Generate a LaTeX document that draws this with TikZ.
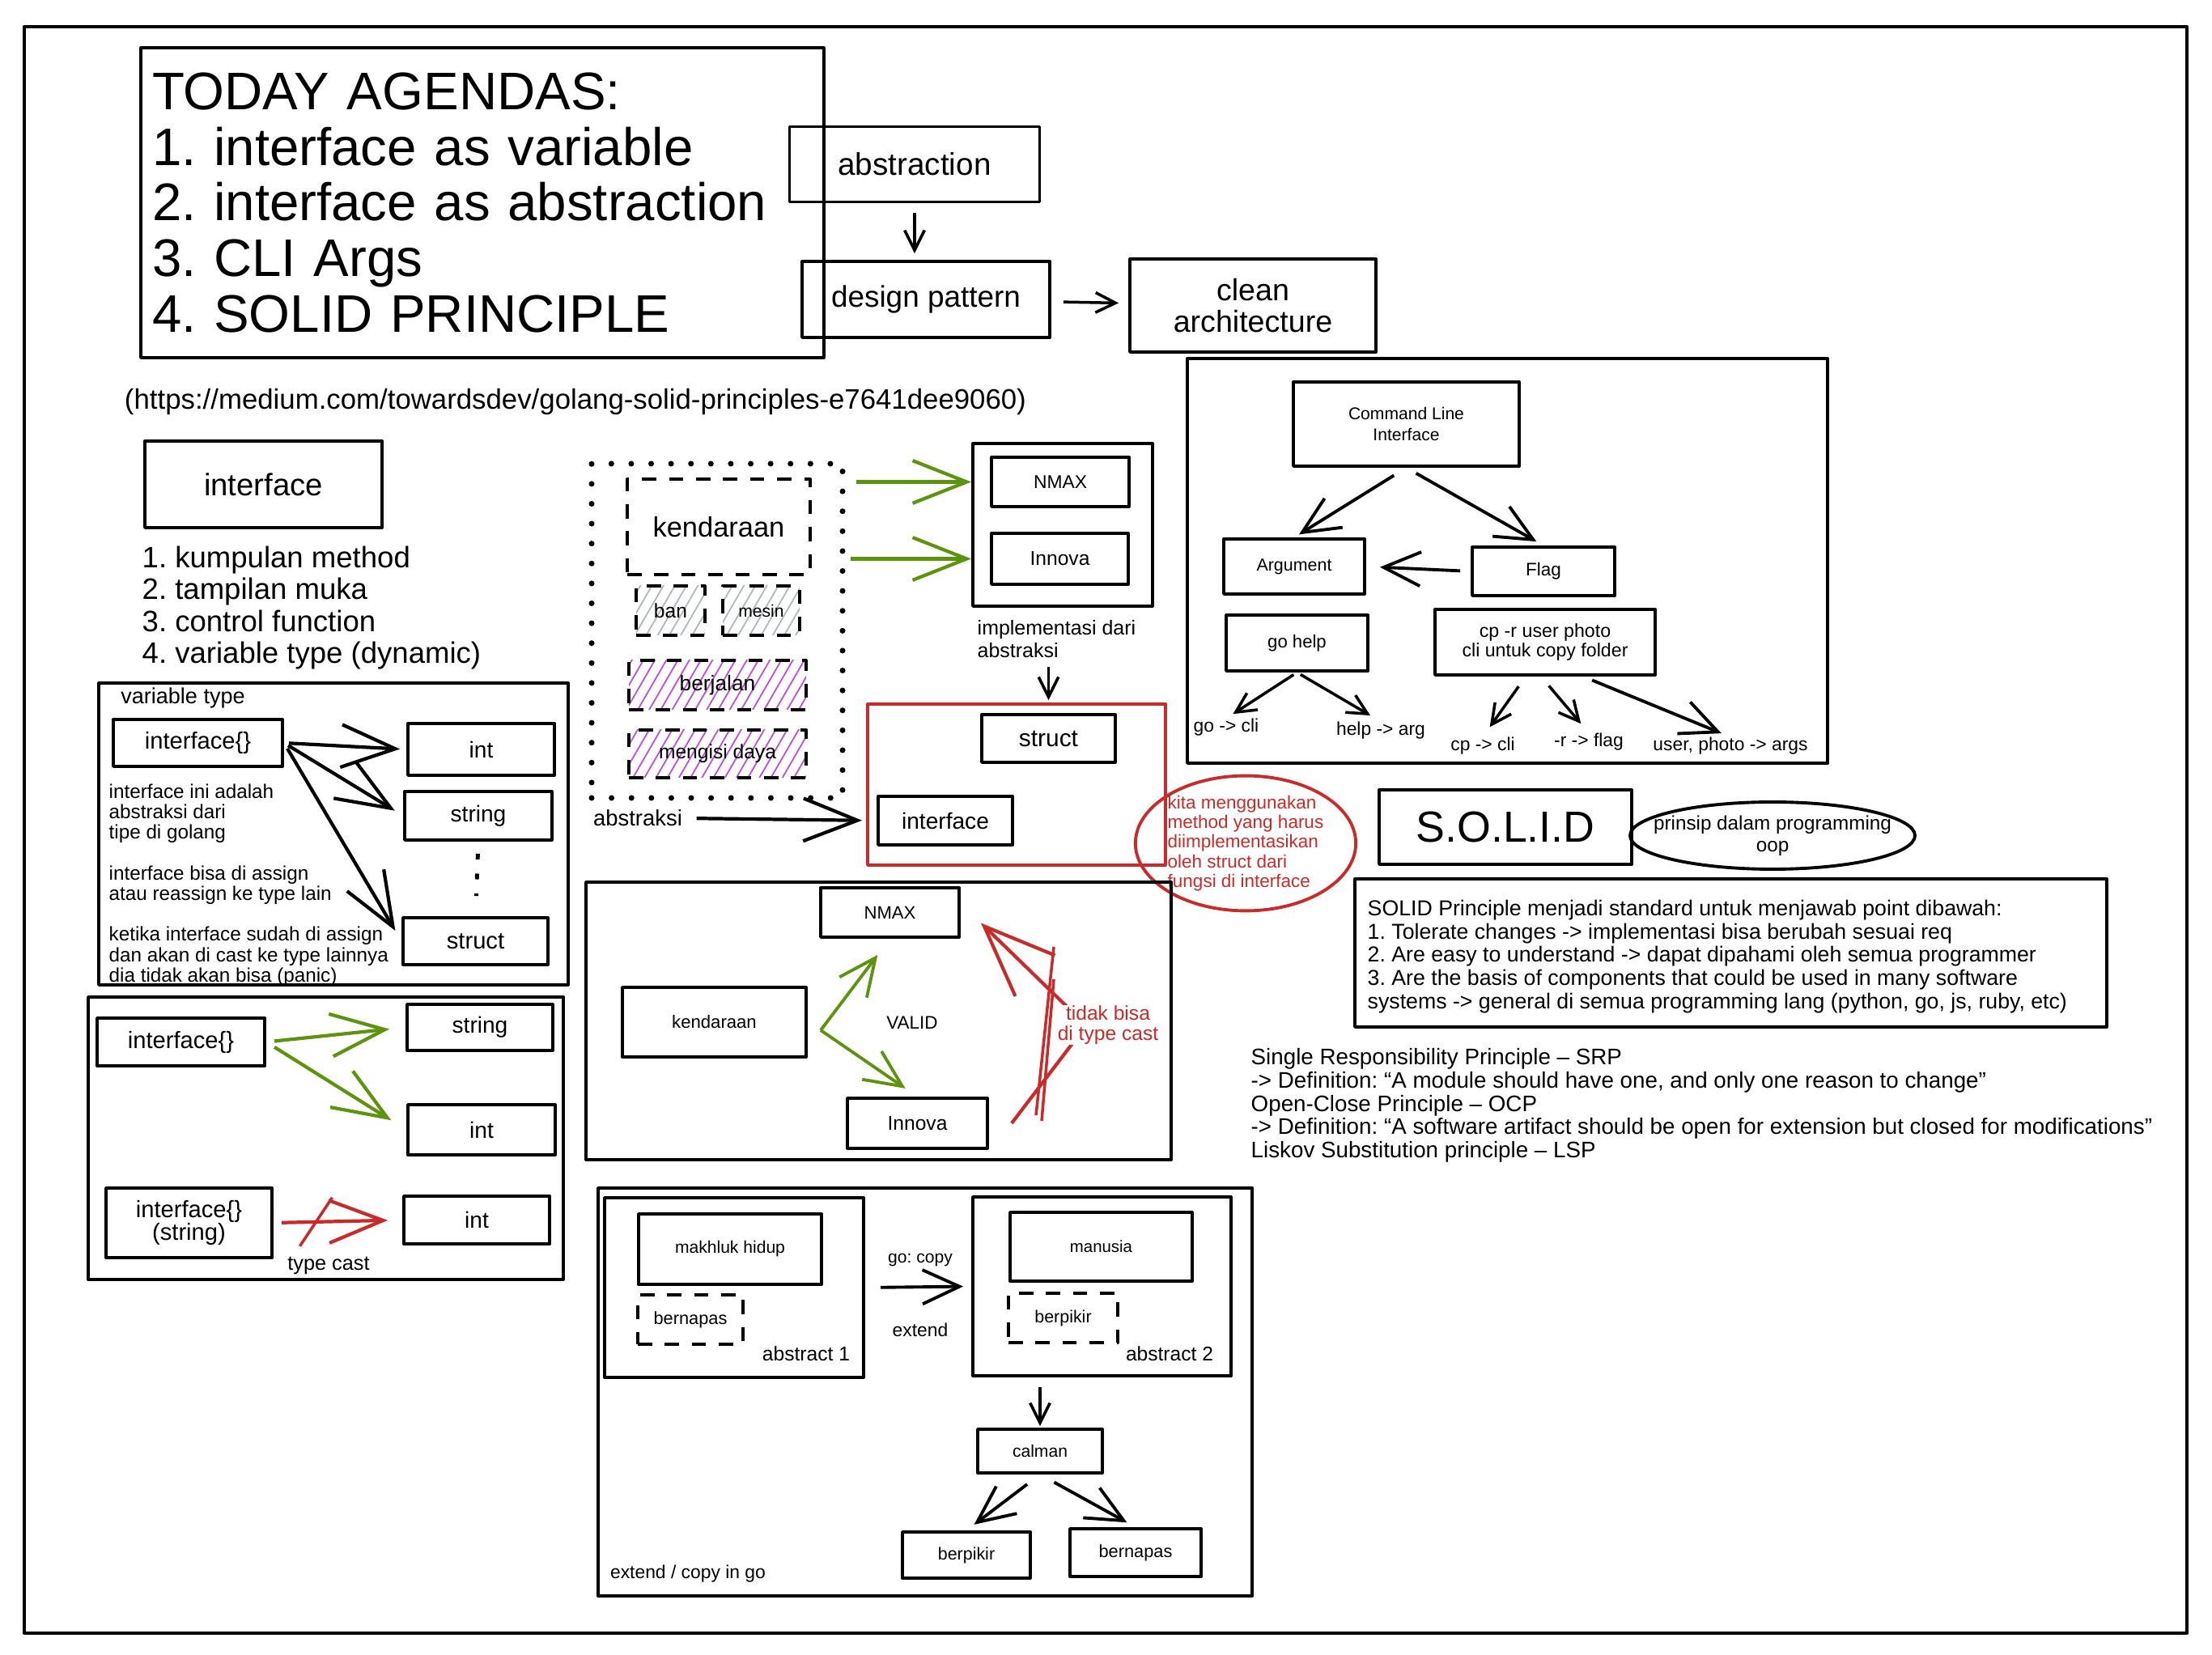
\documentclass[tikz,border=0pt]{standalone}
\usepackage{fontspec}
\setmainfont{Liberation Sans}
\usetikzlibrary{arrows.meta,shapes.geometric,patterns.meta,calc}
\definecolor{xgreen}{RGB}{92,148,13}
\definecolor{xred}{RGB}{201,42,42}
\definecolor{xpurple}{RGB}{190,75,219}
\definecolor{xgray}{RGB}{173,181,189}
\newcommand\fsz[2]{\fontsize{#1}{#2}\selectfont}
\frenchspacing
\begin{document}
\frenchspacing
\begin{tikzpicture}[line join=round,
	card/.style={draw,line width=1.1pt,inner sep=0pt,align=center},
	panel/.style={draw,line width=1.1pt,inner sep=0pt},
	dcard/.style={draw,line width=1.1pt,inner sep=0pt,align=center,dash pattern=on 5pt off 4.5pt},
	txt/.style={inner sep=0pt,align=left},
	sarr/.style={->,line width=1pt,>={Straight Barb[length=7pt,width=7pt]}},
	marr/.style={->,line width=1.1pt,>={Straight Barb[length=13pt,width=12pt]}},
	barr/.style={->,line width=1.2pt,>={Straight Barb[length=19pt,width=15pt]}},
	rarr/.style={->,line width=1.2pt,>={Straight Barb[length=25pt,width=20pt]}},
	greyhatch/.style={pattern={Lines[angle=60,distance=3.5pt,line width=0.5pt]},pattern color=xgray},
	purplehatch/.style={pattern={Lines[angle=60,distance=3.5pt,line width=0.5pt]},pattern color=xpurple}]
		\useasboundingbox (0,0) rectangle (27.33,-20.45);
		\node[panel,line width=1.3pt,minimum width=26.72cm,minimum height=19.85cm] (page) at (13.66,-10.255) {};
		\node[panel,minimum width=8.44cm,minimum height=3.83cm,inner xsep=0.14cm,text width=8.16cm,align=left,font=\fsz{18.6pt}{19.5pt}] (agenda) at (5.96,-2.505) {TODAY AGENDAS:\\1. interface as variable\\2. interface as abstraction\\3. CLI Args\\4. SOLID PRINCIPLE};
		\node[card,minimum width=3.09cm,minimum height=0.93cm,font=\fsz{11pt}{13pt}] (abs) at (11.30,-2.03) {abstraction};
		\node[card,minimum width=3.06cm,minimum height=0.94cm,font=\fsz{10.5pt}{12pt}] (dp) at (11.44,-3.70) {design pattern};
		\node[card,minimum width=3.04cm,minimum height=1.15cm,font=\fsz{10.7pt}{11pt}] (clean) at (15.48,-3.775) {clean\\architecture};
		\draw[sarr,shorten <=0.12cm,shorten >=0.08cm] (abs.south) -- (abs.south |- dp.north);
		\draw[sarr,shorten <=0.15cm,shorten >=0.12cm] (dp) -- (clean);
		\node[txt,font=\fsz{9.9pt}{12pt}] (url) at (7.11,-4.97) {(https://medium.com/towardsdev/golang-solid-principles-e7641dee9060)};
		\node[card,minimum width=2.93cm,minimum height=1.07cm,font=\fsz{10.9pt}{12pt}] (iface) at (3.255,-5.985) {interface};
		\node[txt,anchor=west,font=\fsz{10.4pt}{11.2pt}] (feat) at (1.75,-7.51) {1. kumpulan method\\2. tampilan muka\\3. control function\\4. variable type (dynamic)};
		\node[panel,minimum width=5.80cm,minimum height=3.73cm] (vtframe) at (4.12,-10.305) {};
		\node[txt,font=\fsz{7.7pt}{9pt}] (vtlabel) at (2.26,-8.63) {variable type};
		\node[card,minimum width=2.09cm,minimum height=0.58cm,font=\fsz{8.3pt}{10pt}] (iface1) at (2.445,-9.18) {interface\{\}};
		\node[card,minimum width=1.81cm,minimum height=0.64cm,font=\fsz{8pt}{10pt}] (int1) at (5.945,-9.26) {int};
		\node[card,minimum width=1.82cm,minimum height=0.60cm,font=\fsz{8pt}{10pt}] (str1) at (5.91,-10.08) {string};
		\node[card,minimum width=1.79cm,minimum height=0.58cm,font=\fsz{8.3pt}{10pt}] (struct1) at (5.875,-11.63) {struct};
		\node[txt,anchor=west,font=\fsz{6.9pt}{7.1pt}] (note1) at (1.34,-10.05) {interface ini adalah\\abstraksi dari\\tipe di golang};
		\node[txt,anchor=west,font=\fsz{6.9pt}{7pt}] (note2) at (1.34,-10.935) {interface bisa di assign\\atau reassign ke type lain};
		\node[txt,anchor=west,font=\fsz{6.9pt}{7.3pt}] (note3) at (1.34,-11.82) {ketika interface sudah di assign\\dan akan di cast ke type lainnya\\dia tidak akan bisa (panic)};
		\draw[barr,shorten <=0.06cm,shorten >=0.08cm] (iface1.east) -- (int1.west);
		\draw[barr,shorten <=0.06cm,shorten >=0.12cm] (iface1.east) -- (str1.west);
		\draw[barr,shorten <=0.08cm,shorten >=0.15cm] (iface1.east) -- (struct1.west);
		\draw[line width=1.4pt,dash pattern=on 2pt off 5pt,shorten <=0.15cm,shorten >=0.25cm] (str1.south) -- (struct1.north);
		\node[panel,minimum width=5.87cm,minimum height=3.49cm] (lowframe) at (4.025,-14.065) {};
		\node[card,minimum width=2.07cm,minimum height=0.59cm,font=\fsz{8.3pt}{10pt}] (iface2) at (2.235,-12.875) {interface\{\}};
		\node[card,minimum width=1.80cm,minimum height=0.57cm,font=\fsz{8pt}{10pt}] (str2) at (5.93,-12.695) {string};
		\node[card,minimum width=1.82cm,minimum height=0.62cm,font=\fsz{8pt}{10pt}] (int2) at (5.95,-13.96) {int};
		\node[card,minimum width=2.05cm,minimum height=0.86cm,font=\fsz{8.3pt}{8pt}] (iface3) at (2.335,-15.11) {interface\{\}\\(string)};
		\node[card,minimum width=1.80cm,minimum height=0.59cm,font=\fsz{8pt}{10pt}] (int3) at (5.89,-15.075) {int};
		\draw[barr,xgreen,shorten <=0.1cm,shorten >=0.2cm] (iface2.east) -- (str2.west);
		\draw[barr,xgreen,shorten <=0.12cm,shorten >=0.22cm] (iface2.east) -- (int2.west);
		\draw[barr,xred,shorten <=0.1cm,shorten >=0.18cm] (iface3.east) -- (int3.west);
		\coordinate (tc) at ($(iface3.east)!0.33!(int3.west)$);
		\draw[xred,line width=1pt] (tc) +(-0.2,-0.3) -- +(0.2,0.3);
		\node[txt,font=\fsz{7.2pt}{9pt}] (tcast) at (4.06,-15.64) {type cast};
		\node[panel,minimum width=3.10cm,minimum height=4.13cm,line width=2pt,dash pattern=on 0pt off 7pt,line cap=round] (kframe) at (8.86,-7.795) {};
		\node[dcard,minimum width=2.26cm,minimum height=1.18cm,font=\fsz{9.8pt}{11pt}] (kend1) at (8.88,-6.51) {kendaraan};
		\node[dcard,greyhatch,minimum width=0.85cm,minimum height=0.61cm,font=\fsz{7pt}{8pt}] (ban) at (8.285,-7.545) {ban};
		\node[dcard,greyhatch,minimum width=0.95cm,minimum height=0.61cm,font=\fsz{6pt}{8pt}] (mesin) at (9.405,-7.545) {mesin};
		\node[dcard,purplehatch,minimum width=2.19cm,minimum height=0.61cm,font=\fsz{7.5pt}{8pt}] (jalan) at (8.865,-8.465) {berjalan};
		\node[dcard,purplehatch,minimum width=2.19cm,minimum height=0.59cm,font=\fsz{7pt}{8pt}] (daya) at (8.865,-9.315) {mengisi daya};
		\node[txt,font=\fsz{7.8pt}{9pt}] (abslbl) at (7.88,-10.11) {abstraksi};
		\node[panel,minimum width=2.22cm,minimum height=2.01cm] (implframe) at (13.13,-6.485) {};
		\node[card,minimum width=1.70cm,minimum height=0.61cm,font=\fsz{6.5pt}{8pt}] (nmax1) at (13.10,-5.955) {NMAX};
		\node[card,minimum width=1.69cm,minimum height=0.63cm,font=\fsz{7pt}{8pt}] (innova1) at (13.095,-6.905) {Innova};
		\draw[barr,xgreen,shorten <=0.13cm] (kframe.east |- nmax1.west) -- (implframe.west |- nmax1.west);
		\draw[barr,xgreen,shorten <=0.06cm] (kframe.east |- innova1.west) -- (implframe.west |- innova1.west);
		\node[txt,anchor=west,font=\fsz{7.1pt}{8pt}] (impltext) at (12.07,-7.90) {implementasi dari\\abstraksi};
		\node[panel,draw=xred,minimum width=3.68cm,minimum height=1.99cm] (redbox) at (12.56,-9.695) {};
		\node[card,minimum width=1.65cm,minimum height=0.59cm,font=\fsz{8.5pt}{10pt}] (struct2) at (12.955,-9.125) {struct};
		\node[card,minimum width=1.66cm,minimum height=0.60cm,font=\fsz{8pt}{10pt}] (iface4) at (11.68,-10.14) {interface};
		\draw[sarr,shorten <=0.1cm,shorten >=0.03cm] (impltext.south -| struct2.north) -- (struct2.north |- redbox.north);
		\draw[barr,shorten <=0.17cm,shorten >=0.18cm] (abslbl.east) -- (iface4.west);
		\node[ellipse,draw=xred,line width=1.1pt,inner sep=0pt,minimum width=2.70cm,minimum height=1.66cm,align=left,text=xred,font=\fsz{6.4pt}{6.9pt}] (kitanote) at (15.39,-10.42) {kita menggunakan\\method yang harus\\diimplementasikan\\oleh struct dari\\fungsi di interface};
		\node[panel,minimum width=7.23cm,minimum height=3.43cm] (midframe) at (10.855,-12.615) {};
		\node[card,minimum width=1.71cm,minimum height=0.61cm,font=\fsz{6.3pt}{8pt}] (nmax2) at (10.995,-11.275) {NMAX};
		\node[card,minimum width=2.27cm,minimum height=0.86cm,font=\fsz{6.3pt}{8pt}] (kend2) at (8.825,-12.63) {kendaraan};
		\node[card,minimum width=1.73cm,minimum height=0.62cm,font=\fsz{7pt}{8pt}] (innova2) at (11.335,-13.88) {Innova};
		\node[txt,font=\fsz{6.4pt}{8pt}] (valid) at (11.27,-12.64) {VALID};
		\coordinate (gv) at (10.14,-12.73);
		\draw[marr,xgreen,shorten >=0.25cm] (gv) -- (nmax2.south);
		\draw[marr,xgreen,shorten >=0.18cm] (gv) -- (innova2.north);
		\coordinate (rbend) at (13.42,-12.67);
		\draw[rarr,xred] ([xshift=0.28cm]innova2.east) -- (rbend) -- ([shift={(0.25,-0.13)}]nmax2.east);
		\draw[xred,line width=1pt] (13.02,-11.70) -- (12.80,-13.78);
		\draw[xred,line width=1pt] (13.02,-12.10) -- (12.87,-13.85);
		\node[txt,fill=white,align=center,text=xred,font=\fsz{7pt}{7.2pt}] (nocast) at (13.69,-12.665) {tidak bisa\\di type cast};
		\node[panel,minimum width=7.91cm,minimum height=5.00cm] (cliframe) at (18.625,-6.93) {};
		\node[card,minimum width=2.79cm,minimum height=1.04cm,font=\fsz{6pt}{7.4pt}] (cli) at (17.375,-5.24) {Command Line\\Interface};
		\node[card,minimum width=1.74cm,minimum height=0.68cm,font=\fsz{6.1pt}{8pt}] (arg) at (15.99,-7.00) {Argument};
		\node[card,minimum width=1.76cm,minimum height=0.60cm,font=\fsz{6.4pt}{8pt}] (flag) at (19.07,-7.06) {Flag};
		\node[card,minimum width=1.75cm,minimum height=0.69cm,font=\fsz{6.3pt}{8pt}] (gohelp) at (16.025,-7.945) {go help};
		\node[card,minimum width=2.72cm,minimum height=0.81cm,font=\fsz{6.6pt}{7.1pt}] (cpbox) at (19.09,-7.935) {cp -r user photo\\cli untuk copy folder};
		\node[txt,font=\fsz{6.5pt}{8pt}] (goc) at (15.15,-8.99) {go -> cli};
		\node[txt,font=\fsz{6.5pt}{8pt}] (helparg) at (17.06,-9.03) {help -> arg};
		\node[txt,font=\fsz{6.5pt}{8pt}] (cpcli) at (18.32,-9.22) {cp -> cli};
		\node[txt,font=\fsz{6.5pt}{8pt}] (rflag) at (19.63,-9.17) {-r -> flag};
		\node[txt,font=\fsz{6.5pt}{8pt}] (userargs) at (21.38,-9.22) {user, photo -> args};
		\draw[marr,shorten <=0.18cm,shorten >=0.07cm] (cli.south) -- (arg.north);
		\draw[marr,shorten <=0.14cm,shorten >=0.1cm] (cli.south) -- (flag.north);
		\draw[marr,shorten <=0.13cm,shorten >=0.17cm] (flag.west) -- (arg.east);
		\draw[sarr,shorten <=0.05cm,shorten >=0.1cm] (gohelp.south) -- (goc.north);
		\draw[sarr,shorten <=0.05cm,shorten >=0.15cm] (gohelp.south) -- (helparg.north);
		\draw[sarr,shorten <=0.15cm,shorten >=0.15cm] ([xshift=-0.24cm]cpbox.south) -- (cpcli.north);
		\draw[sarr,shorten <=0.15cm,shorten >=0.15cm] ([xshift=-0.05cm]cpbox.south) -- (rflag.north);
		\draw[marr,shorten <=0.12cm,shorten >=0.12cm] ([xshift=0.47cm]cpbox.south) -- (userargs.north);
		\node[card,minimum width=3.12cm,minimum height=0.92cm,font=\fsz{15.3pt}{17pt}] (solid) at (18.60,-10.22) {S.O.L.I.D};
		\node[txt,align=center,font=\fsz{6.9pt}{7.7pt}] (oop) at (21.90,-10.325) {prinsip dalam programming\\oop};
		\draw[line width=1.1pt] (oop.center) ellipse [x radius=1.76,y radius=0.415];
		\node[panel,minimum width=9.29cm,minimum height=1.83cm] (solidbox) at (21.385,-11.775) {};
		\node[txt,anchor=west,font=\fsz{7.6pt}{8.2pt}] (solidlist) at (16.89,-11.82) {SOLID Principle menjadi standard untuk menjawab point dibawah:\\1. Tolerate changes -> implementasi bisa berubah sesuai req\\2. Are easy to understand -> dapat dipahami oleh semua programmer\\3. Are the basis of components that could be used in many software\\systems -> general di semua programming lang (python, go, js, ruby, etc)};
		\node[txt,anchor=west,font=\fsz{7.9pt}{8.2pt}] (solidtext) at (15.45,-13.66) {Single Responsibility Principle -- SRP\\-> Definition: “A module should have one, and only one reason to change”\\Open-Close Principle -- OCP\\-> Definition: “A software artifact should be open for extension but closed for modifications”\\Liskov Substitution principle -- LSP};
		\node[panel,minimum width=8.08cm,minimum height=5.04cm] (botframe) at (11.43,-17.20) {};
		\node[panel,minimum width=3.20cm,minimum height=2.22cm] (abs1) at (9.07,-15.91) {};
		\node[card,minimum width=2.26cm,minimum height=0.87cm,font=\fsz{6pt}{8pt}] (makhluk) at (9.02,-15.435) {makhluk hidup};
		\node[dcard,minimum width=1.30cm,minimum height=0.61cm,font=\fsz{6.2pt}{8pt}] (bern1) at (8.53,-16.305) {bernapas};
		\node[txt,font=\fsz{7pt}{8pt}] (abst1) at (9.96,-16.73) {abstract 1};
		\node[panel,minimum width=3.19cm,minimum height=2.21cm] (abs2) at (13.615,-15.895) {};
		\node[card,minimum width=2.25cm,minimum height=0.85cm,font=\fsz{5.8pt}{8pt}] (manusia) at (13.605,-15.405) {manusia};
		\node[dcard,minimum width=1.35cm,minimum height=0.61cm,font=\fsz{6.1pt}{8pt}] (berp1) at (13.135,-16.285) {berpikir};
		\node[txt,font=\fsz{7pt}{8pt}] (abst2) at (14.45,-16.73) {abstract 2};
		\node[txt,font=\fsz{6pt}{8pt}] (gocopy) at (11.37,-15.57) {go: copy};
		\node[txt,font=\fsz{6.5pt}{8pt}] (extlbl) at (11.37,-16.43) {extend};
		\draw[marr,shorten <=0.19cm,shorten >=0.1cm] (abs1.east) -- (abs2.west);
		\node[card,minimum width=1.54cm,minimum height=0.54cm,font=\fsz{6pt}{8pt}] (calman) at (12.85,-17.93) {calman};
		\node[card,minimum width=1.58cm,minimum height=0.57cm,font=\fsz{6.1pt}{8pt}] (berp2) at (11.94,-19.215) {berpikir};
		\node[card,minimum width=1.62cm,minimum height=0.59cm,font=\fsz{6.2pt}{8pt}] (bern2) at (14.03,-19.185) {bernapas};
		\draw[sarr,shorten <=0.12cm,shorten >=0.02cm] (calman.north |- abs2.south) -- (calman.north);
		\draw[marr,shorten <=0.2cm,shorten >=0.12cm] (calman.south) -- (berp2.north);
		\draw[marr,shorten <=0.2cm,shorten >=0.12cm] (calman.south) -- (bern2.north);
		\node[txt,font=\fsz{6.5pt}{8pt}] (copygo) at (8.50,-19.45) {extend / copy in go};
\end{tikzpicture}
\end{document}
